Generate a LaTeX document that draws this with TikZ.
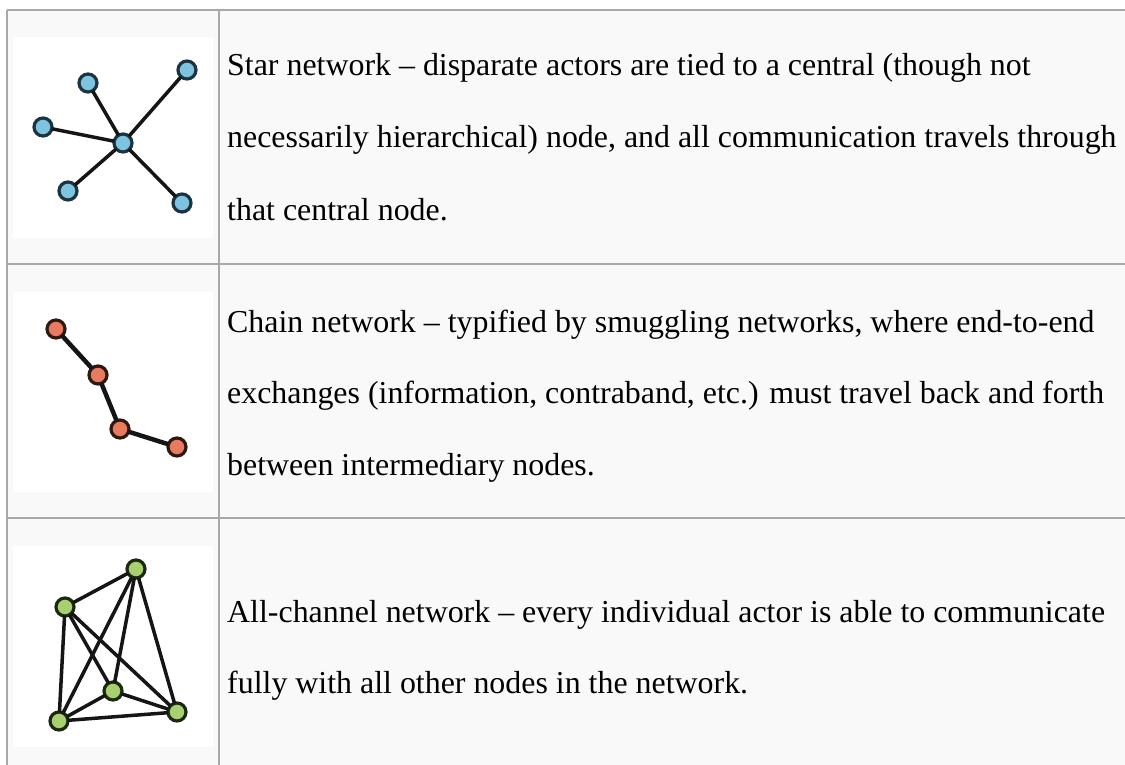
\documentclass[tikz,border=0pt]{standalone}
\usepackage{fontspec}
\setmainfont{Liberation Serif}
\definecolor{cellbg}{HTML}{F9F9F9}
\definecolor{gridc}{HTML}{A8A8A8}
\definecolor{blueN}{HTML}{7CC4E0}
\definecolor{blueS}{HTML}{1C3440}
\definecolor{redN}{HTML}{E87A60}
\definecolor{redS}{HTML}{2E1810}
\definecolor{greenN}{HTML}{A8D070}
\definecolor{greenS}{HTML}{1A2A10}
\definecolor{edgeC}{HTML}{151515}
\tikzset{
  gridline/.style={draw=gridc, line width=1.5pt},
  pnode/.style={circle, minimum size=18pt, inner sep=0pt, outer sep=0pt, line width=3.2pt},
  starnode/.style={pnode, fill=blueN, draw=blueS},
  chainnode/.style={pnode, fill=redN, draw=redS},
  allnode/.style={pnode, fill=greenN, draw=greenS},
  edge/.style={draw=edgeC, line width=3.5pt},
  chainedge/.style={draw=edgeC, line width=4.5pt},
  txt/.style={anchor=base west, inner sep=0pt, font=\fontsize{31.9}{36}\selectfont}
}
\begin{document}
\begin{tikzpicture}[x=1pt,y=-1pt]
\useasboundingbox (0,0) rectangle (1125,765);
\fill[white] (0,0) rectangle (1125,765);
\fill[cellbg] (7,10) rectangle (1125,765);
% image panels
\fill[white] (13,37) rectangle (213,238);
\fill[white] (13,292) rectangle (213,492);
\fill[white] (13,546) rectangle (213,747);
% grid
\draw[gridline] (7,10) -- (1125,10);
\draw[gridline] (7,264) -- (1125,264);
\draw[gridline] (7,518) -- (1125,518);
\draw[gridline] (7,10) -- (7,765);
\draw[gridline] (219,10) -- (219,765);
% star network
\node[starnode] (sc) at (123,143) {};
\node[starnode] (s1) at (88,83) {};
\node[starnode] (s2) at (187,70) {};
\node[starnode] (s3) at (43,127) {};
\node[starnode] (s4) at (68,191) {};
\node[starnode] (s5) at (182,203) {};
\foreach \n in {s1,s2,s3,s4,s5} \draw[edge] (sc) -- (\n);
% chain network
\node[chainnode] (c1) at (56,329) {};
\node[chainnode] (c2) at (98,375) {};
\node[chainnode] (c3) at (120,429) {};
\node[chainnode] (c4) at (177,447) {};
\draw[chainedge] (c1) -- (c2);
\draw[chainedge] (c2) -- (c3);
\draw[chainedge] (c3) -- (c4);
% all-channel network
\node[allnode] (a1) at (136,569) {};
\node[allnode] (a2) at (65,607) {};
\node[allnode] (a3) at (113,691) {};
\node[allnode] (a4) at (59,721) {};
\node[allnode] (a5) at (177,712) {};
\draw[edge] (a1) -- (a2);
\draw[edge] (a1) -- (a3);
\draw[edge] (a1) -- (a4);
\draw[edge] (a1) -- (a5);
\draw[edge] (a2) -- (a3);
\draw[edge] (a2) -- (a4);
\draw[edge] (a2) -- (a5);
\draw[edge] (a3) -- (a4);
\draw[edge] (a3) -- (a5);
\draw[edge] (a4) -- (a5);
% texts
\node[txt] (t11) at (227,76) {Star network – disparate actors are tied to a central (though not};
\node[txt] (t12) at (227,148) {necessarily hierarchical) node, and all communication travels through};
\node[txt] (t13) at (227,220) {that central node.};
\node[txt] (t21) at (227,332) {Chain network – typified by smuggling networks, where end-to-end};
\node[txt] (t22) at (227,403) {exchanges (information, contraband, etc.) must travel back and forth};
\node[txt] (t23) at (227,475) {between intermediary nodes.};
\node[txt] (t31) at (227,622) {All-channel network – every individual actor is able to communicate};
\node[txt] (t32) at (227,693) {fully with all other nodes in the network.};
\end{tikzpicture}
\end{document}
